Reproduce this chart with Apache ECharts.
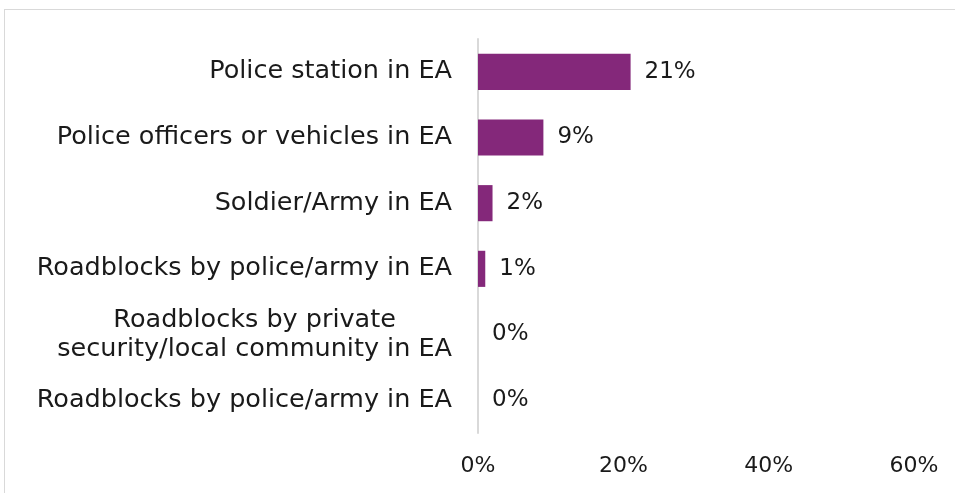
<!DOCTYPE html>
<html>
<head>
<meta charset="utf-8">
<script src="https://cdn.jsdelivr.net/npm/echarts@6/dist/echarts.min.js"></script>
<style>
  html, body { margin: 0; padding: 0; background: #ffffff; }
  #frame { position: absolute; left: 4px; top: 9px; width: 960px; height: 500px;
           border: 1px solid #d9d9d9; box-sizing: border-box; }
  #chart { position: absolute; left: 0; top: 0; width: 955px; height: 493px; }
</style>
</head>
<body>
<div id="frame"></div>
<div id="chart"></div>
<script>
// Presence of security features in the enumeration area (share of EAs)
const categories = [
  'Police station in EA',
  'Police officers or vehicles in EA',
  'Soldier/Army in EA',
  'Roadblocks by police/army in EA',
  'Roadblocks by private\nsecurity/local community in EA',
  'Roadblocks by police/army in EA '
];
const values = [21, 9, 2, 1, 0, 0];
const xTicks = [0, 20, 40, 60];

const FONT = 'DejaVu Sans';
const TEXT = '#1a1a1a';
const chart = echarts.init(document.getElementById('chart'), null, { renderer: 'canvas' });

chart.setOption({
  animation: false,
  backgroundColor: 'transparent',
  grid: { left: 478, right: 41, top: 39, bottom: 60, containLabel: false },
  xAxis: {
    type: 'value',
    min: xTicks[0],
    max: xTicks[xTicks.length - 1],
    interval: 20,
    axisLine: { show: false },
    axisTick: { show: false },
    splitLine: { show: false },
    axisLabel: {
      margin: 22,
      color: TEXT,
      fontFamily: FONT,
      fontSize: 22,
      formatter: v => v + '%'
    }
  },
  yAxis: {
    type: 'category',
    inverse: true,
    data: categories,
    axisLine: { show: true, lineStyle: { color: '#d9d9d9', width: 2 } },
    axisTick: { show: false },
    axisLabel: {
      margin: 26,
      color: TEXT,
      fontFamily: FONT,
      fontSize: 25.5,
      lineHeight: 29,
      formatter: v => v.trim().split('\n').map(s => '{c|' + s + '}').join('\n'),
      rich: {
        c: { align: 'center', fontFamily: FONT, fontSize: 25.5, lineHeight: 29, color: TEXT }
      }
    }
  },
  series: [{
    type: 'bar',
    data: values,
    barCategoryGap: '45%',
    itemStyle: { color: '#84287a' },
    label: {
      show: true,
      position: 'right',
      distance: 14,
      color: TEXT,
      fontFamily: FONT,
      fontSize: 23,
      formatter: p => p.value + '%'
    }
  }]
});
</script>
</body>
</html>
